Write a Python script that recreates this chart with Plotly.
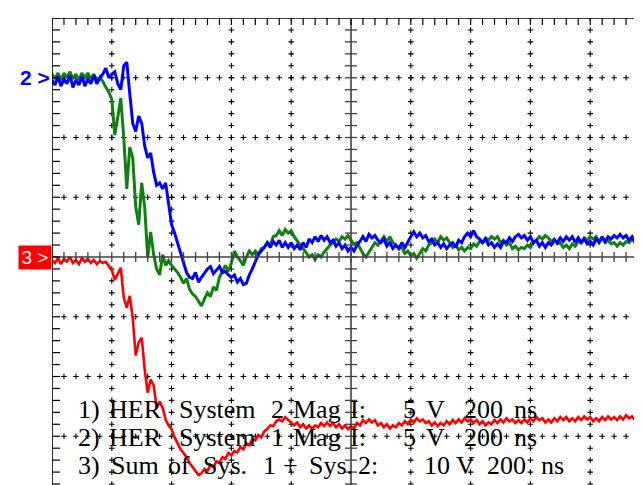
import plotly.graph_objects as go

NS_PER_DIV = 200
t_ns = [10 * i for i in range(201)]  # sample instants, 10 ns apart (0 .. 2000 ns)

# channel 1: HER System 2 Mag I  (5 V/div, blue)
sys2_mag_v = [
    -0.2, -0.6, 0.1, -0.7, -0.1, -0.5, 0.2, -0.8, -0.2, -0.6,
    0.1, -0.7, -0.1, -0.5, 0.2, -0.5, 0.0, 0.3, 0.8, 0.0,
    0.3, 0.5, -0.5, -1.0, 1.0, 1.3, -1.3, -3.8, -4.5, -3.2,
    -3.8, -5.7, -6.7, -6.3, -7.9, -9.0, -8.8, -9.3, -8.8, -10.8,
    -12.3, -13.0, -13.8, -14.8, -15.5, -16.3, -16.7, -16.8, -16.3, -17.1,
    -16.7, -16.3, -16.0, -15.8, -16.4, -16.1, -15.8, -16.3, -16.2, -16.5,
    -16.7, -16.5, -17.1, -16.8, -17.3, -17.2, -16.5, -16.0, -15.4, -14.8,
    -14.5, -14.2, -13.8, -14.2, -13.7, -14.0, -13.6, -14.2, -13.8, -14.2,
    -13.8, -14.3, -14.0, -14.4, -13.8, -14.2, -13.5, -13.8, -13.3, -13.7,
    -13.2, -13.6, -13.3, -13.8, -13.6, -14.1, -13.8, -14.3, -14.0, -14.5,
    -14.2, -14.5, -14.0, -13.7, -13.3, -13.7, -13.1, -13.4, -13.2, -13.6,
    -13.8, -13.5, -14.1, -13.8, -14.3, -14.0, -14.3, -13.8, -14.2, -13.7,
    -13.3, -12.9, -13.3, -13.0, -13.4, -13.2, -13.7, -13.5, -14.0, -13.8,
    -14.2, -13.9, -14.3, -14.0, -13.8, -14.2, -13.6, -13.8, -13.3, -13.0,
    -13.3, -12.8, -13.3, -13.5, -13.8, -13.5, -14.0, -13.8, -14.2, -13.9,
    -14.2, -13.7, -13.8, -13.4, -13.7, -13.3, -13.1, -13.4, -13.2, -13.6,
    -13.3, -13.8, -13.6, -14.1, -13.8, -14.2, -13.8, -14.0, -13.6, -13.8,
    -13.4, -13.7, -13.3, -13.6, -13.3, -13.8, -13.4, -13.8, -13.5, -13.9,
    -13.7, -14.0, -13.5, -13.8, -13.3, -13.7, -13.3, -13.5, -13.2, -13.4,
    -13.1, -13.4, -13.2, -13.6, -13.3, -13.8, -13.5, -13.9, -13.7, -14.0,
    -13.8,
]

# channel 2: HER System 1 Mag I  (5 V/div, green)
sys1_mag_v = [
    0.3, -0.1, 0.4, -0.2, 0.4, 0.0, 0.5, -0.1, 0.3, -0.2,
    0.4, 0.0, 0.4, -0.1, 0.3, -0.2, 0.0, -0.3, -0.8, -1.2,
    -1.8, -4.8, -3.3, -1.7, -5.0, -9.3, -5.8, -6.7, -10.8, -12.3,
    -8.8, -10.8, -15.0, -12.9, -14.8, -16.0, -16.5, -14.8, -15.7, -15.3,
    -15.7, -16.0, -16.3, -16.7, -17.2, -16.8, -17.7, -18.1, -18.3, -18.7,
    -19.1, -18.5, -18.0, -18.3, -17.5, -17.8, -16.7, -16.2, -15.7, -16.2,
    -15.5, -14.5, -15.0, -15.3, -15.7, -15.0, -14.5, -14.8, -14.5, -14.8,
    -14.3, -14.2, -13.8, -14.0, -13.3, -13.2, -12.8, -13.2, -12.7, -13.0,
    -12.8, -13.3, -13.7, -14.0, -14.3, -14.7, -15.0, -14.8, -15.2, -14.8,
    -15.0, -14.6, -14.3, -14.0, -13.8, -13.5, -13.7, -13.3, -13.5, -13.2,
    -13.6, -13.9, -13.8, -14.3, -14.7, -15.0, -14.6, -14.2, -13.8, -14.0,
    -13.6, -13.3, -13.7, -13.3, -13.8, -14.0, -14.3, -14.2, -14.7, -14.5,
    -14.9, -14.7, -15.1, -14.7, -14.3, -14.5, -14.0, -13.8, -13.5, -13.8,
    -13.3, -13.6, -13.4, -13.8, -14.2, -14.0, -14.4, -14.2, -14.5, -14.2,
    -14.3, -13.9, -14.1, -13.7, -13.8, -13.4, -13.6, -13.3, -13.5, -13.3,
    -13.8, -13.6, -14.0, -13.8, -14.3, -14.1, -14.4, -14.2, -14.3, -14.0,
    -14.2, -13.8, -13.6, -13.3, -13.5, -13.2, -13.4, -13.7, -13.5, -13.9,
    -13.8, -14.2, -14.0, -14.3, -13.9, -14.1, -13.7, -13.8, -13.4, -13.6,
    -13.3, -13.5, -13.3, -13.7, -13.4, -13.8, -13.6, -13.9, -13.8, -14.1,
    -13.8, -14.0, -13.7, -13.8, -13.5, -13.7, -13.3, -13.5, -13.2, -13.4,
    -13.3,
]

# channel 3: Sum of Sys. 1 + Sys. 2  (10 V/div, red)
sum_v = [
    -0.5, -1.0, -0.2, -1.2, -0.3, -0.8, 0.0, -1.0, -0.5, -1.2,
    -0.2, -0.8, -0.3, -1.0, -0.5, -1.2, -0.7, -1.0, -0.8, -1.5,
    -2.2, -3.8, -2.8, -1.8, -6.8, -8.5, -6.5, -10.2, -16.5, -14.3,
    -13.5, -18.8, -22.7, -20.5, -21.5, -25.2, -24.2, -25.2, -27.2, -28.2,
    -28.8, -30.2, -31.2, -32.2, -32.8, -33.5, -34.5, -35.2, -35.8, -36.5,
    -36.2, -35.5, -35.8, -34.8, -35.2, -34.2, -34.5, -33.5, -33.8, -32.8,
    -33.2, -32.5, -32.7, -31.8, -32.2, -31.2, -31.5, -30.5, -30.7, -29.8,
    -30.2, -29.2, -28.8, -28.2, -28.3, -27.5, -27.2, -27.5, -26.8, -27.3,
    -27.8, -28.2, -27.7, -28.5, -28.0, -28.7, -28.2, -28.8, -28.2, -28.5,
    -27.8, -28.3, -27.7, -28.3, -27.8, -28.5, -28.0, -28.7, -28.2, -28.8,
    -28.3, -28.7, -27.8, -28.2, -27.3, -27.8, -27.2, -27.7, -27.3, -28.2,
    -27.8, -28.5, -28.0, -28.7, -28.2, -28.5, -27.8, -28.2, -27.5, -28.0,
    -27.2, -27.7, -27.0, -27.5, -27.2, -27.8, -27.5, -28.2, -27.7, -28.3,
    -27.8, -28.2, -27.5, -28.0, -27.3, -27.8, -27.2, -27.7, -27.0, -27.5,
    -27.2, -27.8, -27.3, -28.0, -27.5, -28.2, -27.7, -28.0, -27.3, -27.8,
    -27.2, -27.7, -27.0, -27.5, -27.2, -27.8, -27.3, -27.8, -27.2, -27.7,
    -27.0, -27.5, -26.8, -27.3, -27.0, -27.7, -27.2, -27.7, -27.0, -27.5,
    -26.8, -27.3, -26.8, -27.5, -27.0, -27.5, -26.8, -27.3, -26.7, -27.2,
    -26.8, -27.5, -27.0, -27.5, -26.8, -27.3, -26.7, -27.2, -26.8, -27.3,
    -26.7, -27.2, -26.5, -27.0, -26.7, -27.3, -26.8, -27.3, -26.7, -27.2,
    -26.8,
]

CH_VOLTS_PER_DIV = [5, 5, 10]
CH_REF_DIV = [3, 3, 0]          # ground-marker position (divisions from centre)
CH_MARKERS = ["1", "2", "3"]

legend_words = [
    ["1)", "HER", "System", "2", "Mag", "I:", "5", "V", "200", "ns"],
    ["2)", "HER", "System", "1", "Mag", "I:", "5", "V", "200", "ns"],
    ["3)", "Sum", "of", "Sys.", "1", "+", "Sys.", "2:", "10", "V", "200", "ns"],
]

# ---------------- layout constants (pixels) ----------------
W, H = 642, 485
ML, MT = 44, 10
PW, PH = W - ML, H - MT
X_DIVS = 10
Y_TOP, Y_BOT = 4.0, -3.95
X_MAX = X_DIVS * NS_PER_DIV


def px2paper(px, py):
    return (px - ML) / PW, (H - py) / PH


BLUE, GREEN, RED = "#0000ff", "#108010", "#ff0000"

fig = go.Figure()

# ---------------- graticule ----------------
shapes = []
FRAME = dict(color="black", width=1.6)
AXC = dict(color="#404040", width=1.6)
TICK = dict(color="black", width=1.2)
shapes.append(dict(type="line", xref="x", yref="y", x0=0, x1=0, y0=Y_BOT - 1, y1=Y_TOP, line=FRAME))
shapes.append(dict(type="line", xref="x", yref="y", x0=0, x1=X_MAX, y0=Y_TOP, y1=Y_TOP, line=FRAME))
shapes.append(dict(type="line", xref="x", yref="y", x0=X_MAX, x1=X_MAX, y0=Y_BOT - 1, y1=Y_TOP, line=FRAME))
shapes.append(dict(type="line", xref="x", yref="y", x0=0, x1=X_MAX, y0=0, y1=0, line=AXC))
shapes.append(dict(type="line", xref="x", yref="y", x0=X_MAX / 2, x1=X_MAX / 2, y0=-4, y1=Y_TOP, line=AXC))

minor_x = [k * NS_PER_DIV / 5 for k in range(0, X_DIVS * 5 + 1)]
minor_y = [k / 5 - 4 for k in range(0, 41)]
for xv in minor_x:
    shapes.append(dict(type="line", xref="x", yref="y", ysizemode="pixel", yanchor=Y_TOP,
                       x0=xv, x1=xv, y0=0, y1=-7, line=TICK))
    shapes.append(dict(type="line", xref="x", yref="y", ysizemode="pixel", yanchor=-4,
                       x0=xv, x1=xv, y0=0, y1=8, line=TICK))
    shapes.append(dict(type="line", xref="x", yref="y", ysizemode="pixel", yanchor=0,
                       x0=xv, x1=xv, y0=-5, y1=5, line=AXC | dict(width=1.3)))
for yv in minor_y:
    shapes.append(dict(type="line", xref="x", yref="y", xsizemode="pixel", xanchor=0,
                       x0=0, x1=8, y0=yv, y1=yv, line=TICK))
    shapes.append(dict(type="line", xref="x", yref="y", xsizemode="pixel", xanchor=X_MAX,
                       x0=-8, x1=0, y0=yv, y1=yv, line=TICK))
    shapes.append(dict(type="line", xref="x", yref="y", xsizemode="pixel", xanchor=X_MAX / 2,
                       x0=-6, x1=6, y0=yv, y1=yv, line=AXC | dict(width=1.3)))

dx, dy = [], []
for d in range(1, X_DIVS):
    if d == X_DIVS // 2:
        continue
    for yv in minor_y:
        if abs(yv) > 1e-9:
            dx.append(d * NS_PER_DIV)
            dy.append(yv)
for yd in [-3, -2, -1, 1, 2, 3]:
    for xv in minor_x[1:-1]:
        if abs(xv - X_MAX / 2) > 1e-9:
            dx.append(xv)
            dy.append(yd)
fig.add_trace(go.Scatter(x=dx, y=dy, mode="markers", hoverinfo="skip",
                         marker=dict(symbol="cross-thin", size=4, line=dict(color="black", width=1.1))))

# ---------------- traces ----------------
def to_div(values, ch):
    return [CH_REF_DIV[ch] + v / CH_VOLTS_PER_DIV[ch] for v in values]

fig.add_trace(go.Scatter(x=t_ns, y=to_div(sys1_mag_v, 1), mode="lines",
                         line=dict(color=GREEN, width=3)))
fig.add_trace(go.Scatter(x=t_ns, y=to_div(sys2_mag_v, 0), mode="lines",
                         line=dict(color=BLUE, width=3)))
fig.add_trace(go.Scatter(x=t_ns, y=to_div(sum_v, 2), mode="lines",
                         line=dict(color=RED, width=2.6)))

# ---------------- annotations ----------------
ann = []
ann.append(dict(xref="paper", yref="y", x=0, y=CH_REF_DIV[1], xanchor="right", yanchor="middle",
                xshift=0, showarrow=False, text="<b>" + CH_MARKERS[1] + " &gt;</b>",
                font=dict(family="Liberation Sans Narrow, Liberation Sans, Arial", size=21, color=BLUE)))
ann.append(dict(xref="paper", yref="y", x=0, y=CH_REF_DIV[2], xanchor="right", yanchor="middle",
                xshift=0, yshift=-1, showarrow=False, text=CH_MARKERS[2] + " &gt;",
                bgcolor=RED, width=30, height=21, borderpad=1, align="center",
                font=dict(family="Liberation Sans, Arial", size=19, color="white")))

# word centres (px) measured on the screen
word_cx = [
    [81, 127, 209, 269, 309, 350, 401, 427, 475, 517],
    [81, 127, 209, 269, 309, 350, 401, 427, 475, 517],
    [81, 127, 171, 217, 261, 282, 323, 360, 429, 457, 498, 544],
]
line_y = [401, 429, 457]
for words, xs, ly in zip(legend_words, word_cx, line_y):
    for w, xp in zip(words, xs):
        px, py = px2paper(xp, ly)
        ann.append(dict(xref="paper", yref="paper", x=px, y=py, xanchor="center", yanchor="middle",
                        showarrow=False, text=w,
                        font=dict(family="Liberation Serif, Times New Roman, serif", size=26, color="black")))

fig.update_layout(
    width=W, height=H,
    margin=dict(l=ML, r=0, t=MT, b=0, pad=0),
    paper_bgcolor="white", plot_bgcolor="white",
    showlegend=False,
    xaxis=dict(range=[0, X_MAX], visible=False, fixedrange=True),
    yaxis=dict(range=[Y_BOT, Y_TOP], visible=False, fixedrange=True),
    shapes=shapes,
    annotations=ann,
)

fig.write_html("out.html")
